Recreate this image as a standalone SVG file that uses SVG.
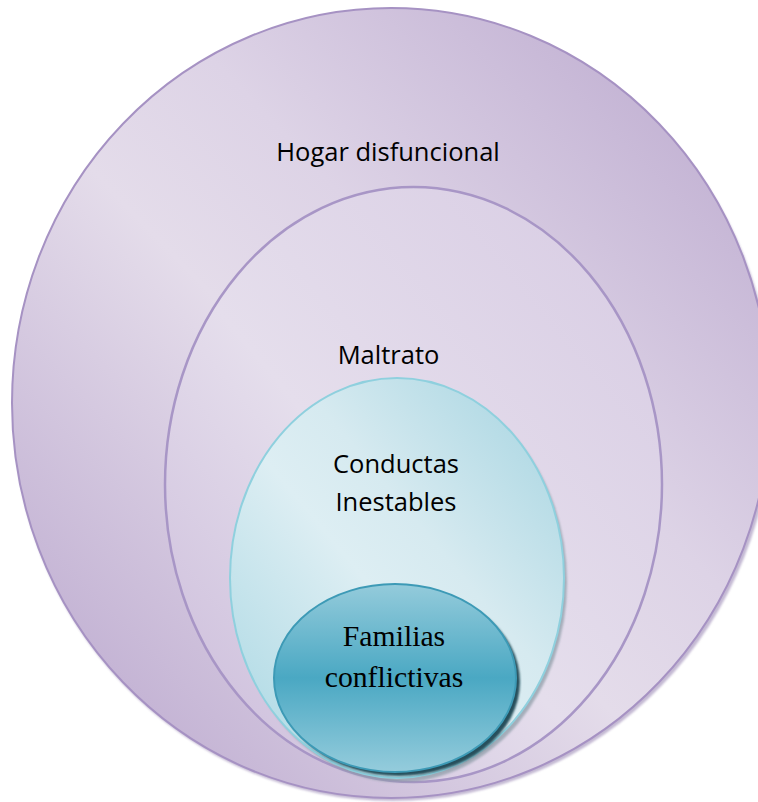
<svg xmlns="http://www.w3.org/2000/svg" width="758" height="802" viewBox="0 0 758 802">
<defs>
<linearGradient id="gOuter" x1="0" y1="1" x2="1" y2="0">
<stop offset="0" stop-color="#b6a2cb"/>
<stop offset="0.45" stop-color="#e4dcea"/>
<stop offset="0.6" stop-color="#ddd3e6"/>
<stop offset="1" stop-color="#b8a5cc"/>
</linearGradient>
<linearGradient id="gMid" x1="0" y1="1" x2="1" y2="0">
<stop offset="0" stop-color="#c9b9d9"/>
<stop offset="0.45" stop-color="#e5deec"/>
<stop offset="1" stop-color="#d7cbe3"/>
</linearGradient>
<linearGradient id="gCyan" x1="0" y1="1" x2="1" y2="0">
<stop offset="0" stop-color="#a6d6e2"/>
<stop offset="0.45" stop-color="#ddeef3"/>
<stop offset="0.6" stop-color="#d6eaf0"/>
<stop offset="1" stop-color="#a3d3e0"/>
</linearGradient>
<linearGradient id="gTeal" x1="0" y1="0" x2="0" y2="1">
<stop offset="0" stop-color="#94cbdb"/>
<stop offset="0.5" stop-color="#4aa8c3"/>
<stop offset="1" stop-color="#95ccdc"/>
</linearGradient>
<filter id="sh" x="-10%" y="-10%" width="125%" height="125%">
<feGaussianBlur stdDeviation="1.2"/>
</filter>
<style>
.lbl{font-family:"Open Sans","Liberation Sans",sans-serif;font-size:25.5px;fill:#000;text-anchor:middle}
.ser{font-family:"Liberation Serif","Times New Roman",serif;font-size:29.7px;fill:#000;text-anchor:middle}
</style>
</defs>
<g id="hogar">
<ellipse cx="391" cy="404" rx="380" ry="394" fill="#9c8ab6" opacity="0.6" transform="translate(2,3)" filter="url(#sh)"/>
<ellipse cx="391" cy="403" rx="379" ry="395" fill="url(#gOuter)" stroke="#a692c3" stroke-width="2"/>
<text class="lbl" x="388" y="161">Hogar disfuncional</text>
</g>
<g id="maltrato">
<ellipse cx="413.5" cy="484.5" rx="248.5" ry="297.5" fill="url(#gMid)" stroke="#a896c6" stroke-width="2.5"/>
<text class="lbl" x="388.5" y="364">Maltrato</text>
</g>
<g id="conductas">
<ellipse cx="398" cy="579" rx="167" ry="200" fill="#8a9aa4" opacity="0.7" transform="translate(2,3)" filter="url(#sh)"/>
<ellipse cx="397" cy="578" rx="167" ry="200" fill="url(#gCyan)" stroke="#8fd0de" stroke-width="2"/>
<text class="lbl" x="396" y="473">Conductas</text>
<text class="lbl" x="396" y="511">Inestables</text>
</g>
<g id="familias">
<ellipse cx="396" cy="679" rx="121" ry="94" fill="#25505c" transform="translate(3,3)" filter="url(#sh)"/>
<ellipse cx="395" cy="678" rx="121" ry="94" fill="url(#gTeal)" stroke="#3d9ab6" stroke-width="2"/>
<text class="ser" x="394" y="646">Familias</text>
<text class="ser" x="394" y="687">conflictivas</text>
</g>
<g id="connectors"/>
</svg>
